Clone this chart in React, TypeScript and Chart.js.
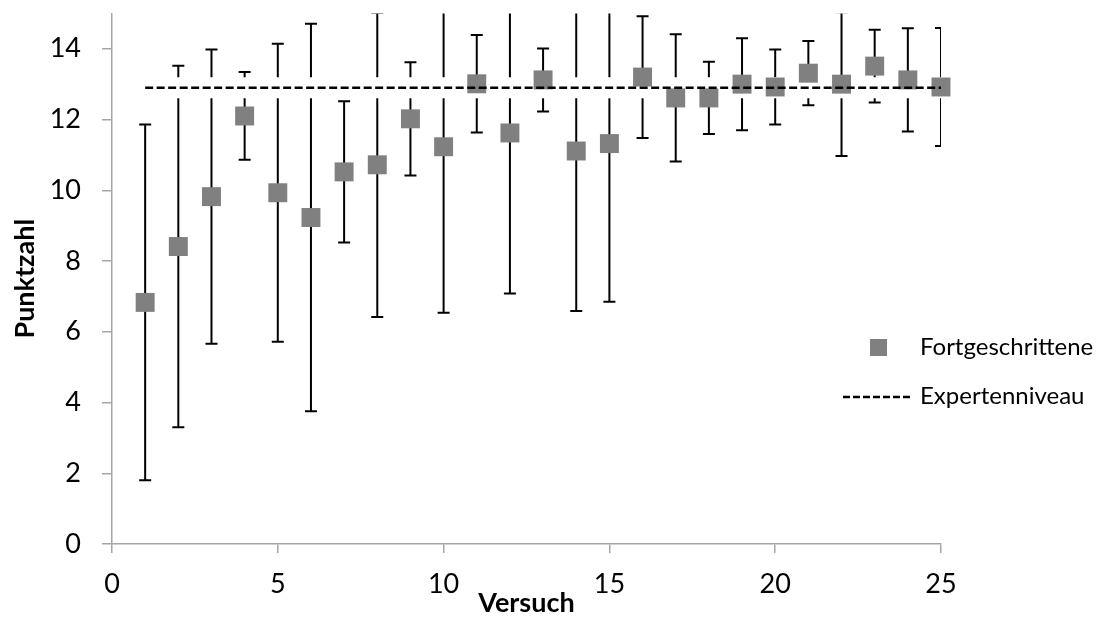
import React, { useEffect, useRef } from 'react';
import { Chart, registerables } from 'chart.js';

Chart.register(...registerables);

// Data
const versuch = [1, 2, 3, 4, 5, 6, 7, 8, 9, 10, 11, 12, 13, 14, 15, 16, 17, 18, 19, 20, 21, 22, 23, 24, 25];
const mittelwert = [6.83, 8.41, 9.82, 12.1, 9.93, 9.23, 10.52, 10.72, 12.02, 11.23, 13.01, 11.62, 13.12, 11.11, 11.32, 13.2, 12.61, 12.61, 13.0, 12.92, 13.31, 13.0, 13.51, 13.12, 12.92];
const streuung = [5.03, 5.11, 4.16, 1.24, 4.21, 5.48, 2.0, 4.3, 1.6, 4.69, 1.38, 4.54, 0.89, 4.52, 4.47, 1.72, 1.8, 1.02, 1.3, 1.06, 0.91, 2.03, 1.03, 1.46, 1.67];
const expertX = [1, 25];
const expertNiveau = [12.9, 12.9];
const seriesLabels = ['Fortgeschrittene', 'Expertenniveau'];
const axisTitles = { x: 'Versuch', y: 'Punktzahl' };

const FONT = 'Lato';

export default function App() {
  const ref = useRef<HTMLCanvasElement>(null);

  useEffect(() => {
    const canvas = ref.current;
    if (!canvas) return;

    const errorBars = {
      id: 'errorBars',
      beforeDatasetsDraw(chart: any) {
        const { ctx, chartArea, scales } = chart;
        const xs = scales.x;
        const ys = scales.y;
        ctx.save();
        ctx.beginPath();
        ctx.rect(chartArea.left, chartArea.top, chartArea.right - chartArea.left, chartArea.bottom - chartArea.top);
        ctx.clip();
        ctx.strokeStyle = '#000';
        ctx.lineWidth = 2;
        const cap = 6;
        versuch.forEach((v, i) => {
          const x = xs.getPixelForValue(v);
          const yt = ys.getPixelForValue(mittelwert[i] + streuung[i]);
          const yb = ys.getPixelForValue(mittelwert[i] - streuung[i]);
          ctx.beginPath();
          ctx.moveTo(x, yt);
          ctx.lineTo(x, yb);
          ctx.moveTo(x - cap, yt);
          ctx.lineTo(x + cap, yt);
          ctx.moveTo(x - cap, yb);
          ctx.lineTo(x + cap, yb);
          ctx.stroke();
        });
        ctx.restore();
      },
    };

    const customLegend = {
      id: 'customLegend',
      afterDraw(chart: any) {
        const { ctx } = chart;
        ctx.save();
        ctx.fillStyle = '#808080';
        ctx.fillRect(870, 339, 17, 17);
        ctx.strokeStyle = '#000';
        ctx.lineWidth = 2.5;
        ctx.setLineDash([7, 3]);
        ctx.beginPath();
        ctx.moveTo(843, 397);
        ctx.lineTo(912, 397);
        ctx.stroke();
        ctx.setLineDash([]);
        ctx.fillStyle = '#000';
        ctx.font = `24px ${FONT}`;
        ctx.textAlign = 'left';
        ctx.textBaseline = 'middle';
        ctx.fillText(seriesLabels[0], 920, 347);
        ctx.fillText(seriesLabels[1], 920, 396);
        ctx.restore();
      },
    };

    const chart = new Chart(canvas, {
      type: 'scatter',
      data: {
        datasets: [
          {
            label: 'band',
            type: 'line',
            data: expertX.map((x, i) => ({ x, y: expertNiveau[i] })),
            borderColor: '#ffffff',
            borderWidth: 21,
            borderCapStyle: 'butt',
            pointRadius: 0,
            order: 3,
          } as any,
          {
            label: seriesLabels[0],
            data: versuch.map((x, i) => ({ x, y: mittelwert[i] })),
            pointStyle: 'rect',
            pointRadius: 13.4,
            pointBackgroundColor: '#808080',
            pointBorderColor: '#808080',
            pointBorderWidth: 0,
            clip: false,
            order: 2,
          } as any,
          {
            label: seriesLabels[1],
            type: 'line',
            data: expertX.map((x, i) => ({ x, y: expertNiveau[i] })),
            borderColor: '#000000',
            borderWidth: 2.5,
            borderDash: [8, 3.5],
            pointRadius: 0,
            order: 1,
          } as any,
        ],
      },
      options: {
        responsive: false,
        animation: false,
        devicePixelRatio: 1,
        layout: { padding: { top: 11, right: 167, left: 0, bottom: 0 } },
        plugins: { legend: { display: false }, tooltip: { enabled: false } },
        scales: {
          x: {
            type: 'linear',
            min: 0,
            max: 25,
            ticks: { stepSize: 5, padding: 15, color: '#000', font: { family: FONT, size: 27 } },
            grid: { drawOnChartArea: false, tickLength: 9, color: '#a6a6a6', lineWidth: 1.5 },
            border: { color: '#a6a6a6', width: 1.5 },
            title: {
              display: true,
              text: axisTitles.x,
              color: '#000',
              font: { family: FONT, size: 27, weight: 'bold' },
              padding: { top: 0, bottom: 4 },
            },
            afterFit(s: any) {
              s.height = 79;
              s.paddingLeft = 0;
              s.paddingRight = 0;
            },
          },
          y: {
            type: 'linear',
            min: 0,
            max: 15,
            ticks: { stepSize: 2, includeBounds: false, padding: 21, color: '#000', font: { family: FONT, size: 27 } },
            grid: { drawOnChartArea: false, tickLength: 10, color: '#a6a6a6', lineWidth: 1.5 },
            border: { color: '#a6a6a6', width: 1.5 },
            title: {
              display: true,
              text: axisTitles.y,
              color: '#000',
              font: { family: FONT, size: 27, weight: 'bold' },
              padding: { top: 9, bottom: 0 },
            },
            afterFit(s: any) {
              s.width = 112;
              s.paddingTop = 0;
              s.paddingBottom = 0;
            },
          },
        },
      } as any,
      plugins: [errorBars, customLegend],
    });

    return () => chart.destroy();
  }, []);

  return (
    <div style={{ position: 'fixed', left: 0, top: 0, width: 1108, height: 623, background: '#fff' }}>
      <canvas ref={ref} width={1108} height={623} style={{ display: 'block', width: 1108, height: 623 }} />
    </div>
  );
}
